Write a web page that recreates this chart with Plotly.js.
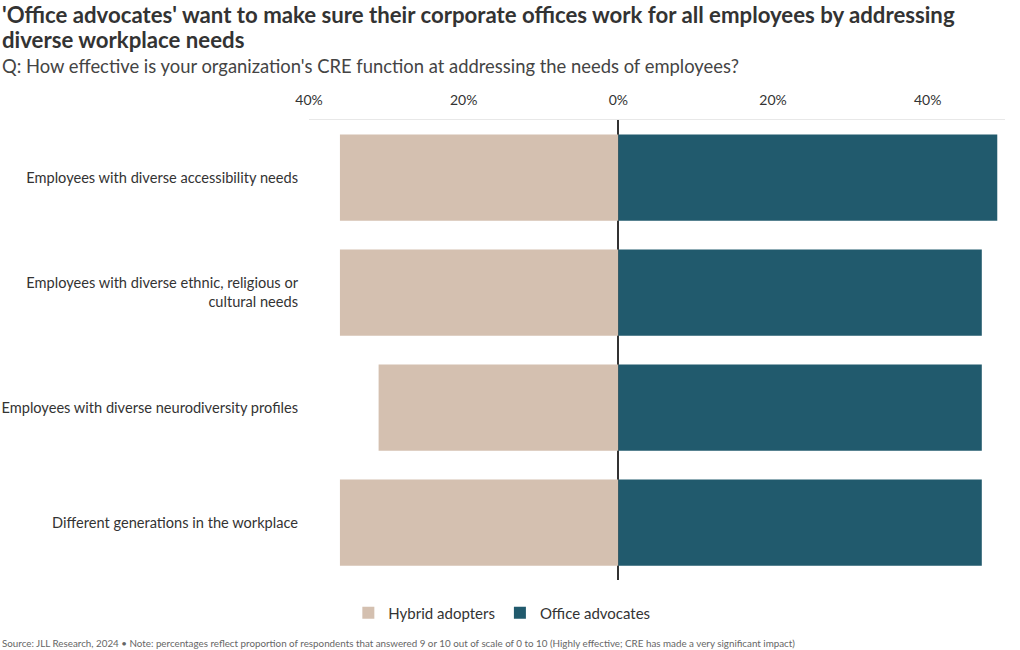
<!DOCTYPE html>
<html><head><meta charset="utf-8">
<script src="https://cdn.plot.ly/plotly-3.0.1.min.js"></script>
<style>body{margin:0;background:#fff}#chart{width:1020px;height:650px}</style>
</head><body><div id="chart"></div>
<script>
const categories = [
  "Employees with diverse accessibility needs",
  "Employees with diverse ethnic, religious or<br>cultural needs",
  "Employees with diverse neurodiversity profiles",
  "Different generations in the workplace"
];
const hybridAdopters = [36, 36, 31, 36];
const officeAdvocates = [49, 47, 47, 47];
const tickValues = [-40, -20, 0, 20, 40];
const tickLabels = ["40%", "20%", "0%", "20%", "40%"];

const FONT = "Lato, 'Source Sans Pro', sans-serif";

const traces = [
  {type:'bar', orientation:'h', name:'Hybrid adopters', y:categories,
   x:hybridAdopters.map(v=>-v), marker:{color:'#d4c0b0'}},
  {type:'bar', orientation:'h', name:'Office advocates', y:categories,
   x:officeAdvocates, marker:{color:'#215a6d'}}
];

const PW = 696, PH = 460, T = 120;
const py = (pageY) => (T + PH - pageY) / PH;
const px = (pageX) => (pageX - 309) / PW;

const layout = {
  width:1020, height:650,
  margin:{l:309, r:15, t:120, b:70},
  barmode:'relative', bargap:0.25,
  font:{family:FONT, color:'#333', size:14},
  paper_bgcolor:'#fff', plot_bgcolor:'#fff',
  showlegend:true,
  legend:{orientation:'h', xref:'container', yref:'container', x:0.492, xanchor:'center',
          y:(650-613)/650, yanchor:'middle', font:{size:15, color:'#333'}, traceorder:'normal',
          itemwidth:30},
  xaxis:{side:'top', range:[-40, 50], tickvals:tickValues, ticktext:tickLabels,
         showgrid:false, zeroline:true, zerolinecolor:'#333', zerolinewidth:2,
         showline:true, linecolor:'#e8e8e8', linewidth:1, ticks:'', ticklabelstandoff:8,
         tickfont:{size:14, color:'#333'}, fixedrange:true},
  yaxis:{autorange:'reversed', showgrid:false, zeroline:false, ticks:'',
         ticklabelstandoff:10, tickfont:{size:14.6, color:'#333'}, automargin:false},
  annotations:[
    {xref:'paper', yref:'paper', x:px(0), y:py(14), xanchor:'left', yanchor:'middle', showarrow:false,
     text:"<b>'Office advocates' want to make sure their corporate offices work for all employees by addressing</b>",
     align:'left', font:{family:FONT, size:22.2, color:'#333'}},
    {xref:'paper', yref:'paper', x:px(0), y:py(40), xanchor:'left', yanchor:'middle', showarrow:false,
     text:"<b>diverse workplace needs</b>",
     align:'left', font:{family:FONT, size:22.2, color:'#333'}},
    {xref:'paper', yref:'paper', x:px(0), y:py(66), xanchor:'left', yanchor:'middle', showarrow:false,
     text:"Q: How effective is your organization's CRE function at addressing the needs of employees?",
     align:'left', font:{family:FONT, size:18.4, color:'#444'}},
    {xref:'paper', yref:'paper', x:px(0), y:py(643), xanchor:'left', yanchor:'middle', showarrow:false,
     text:"Source: JLL Research, 2024 • Note: percentages reflect proportion of respondents that answered 9 or 10 out of scale of 0 to 10 (Highly effective; CRE has made a very significant impact)",
     align:'left', font:{family:FONT, size:9.8, color:'#666'}}
  ]
};
Plotly.newPlot('chart', traces, layout, {displayModeBar:false, staticPlot:true});
</script>
</body></html>
